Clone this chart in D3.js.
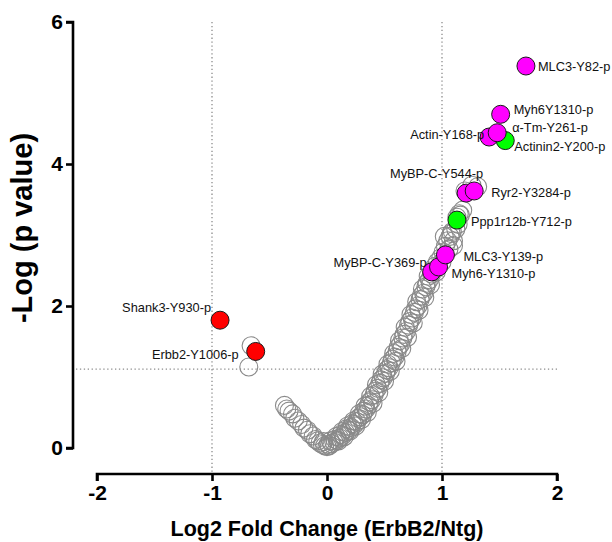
<!DOCTYPE html>
<html>
<head>
<meta charset="utf-8">
<script src="https://cdn.jsdelivr.net/npm/d3@7"></script>
<style>
  html, body { margin: 0; padding: 0; background: #fff; }
  svg { display: block; }
  text { font-family: "Liberation Sans", Arial, Helvetica, sans-serif; }
</style>
</head>
<body>
<svg id="chart" width="612" height="542"></svg>
<script>
// ---------------- data ----------------
const xTicks = [-2, -1, 0, 1, 2];
const yTicks = [0, 2, 4, 6];
const xTitle = "Log2 Fold Change (ErbB2/Ntg)";
const yTitle = "-Log (p value)";
const foldCutoffs = [-1, 1];
const pCutoff = 1.11;

// non-significant sites: [log2FC, -log p]
const grayPoints = [
  [-0.37,0.60],[-0.35,0.55],[-0.33,0.52],[-0.30,0.48],[-0.28,0.42],[-0.25,0.38],
  [-0.22,0.33],[-0.20,0.28],[-0.17,0.25],[-0.15,0.20],[-0.12,0.17],[-0.10,0.12],
  [-0.08,0.10],[-0.06,0.07],[-0.04,0.05],[-0.02,0.03],[0.00,0.02],[0.01,0.05],[-0.03,0.09],
  [0.02,0.03],[0.04,0.06],[0.03,0.10],[0.06,0.08],[0.07,0.12],[0.09,0.11],[0.08,0.16],
  [0.11,0.14],[0.12,0.19],[0.14,0.18],[0.13,0.23],[0.16,0.22],[0.17,0.27],[0.19,0.25],
  [0.18,0.31],[0.21,0.29],[0.22,0.34],[0.24,0.33],[0.23,0.38],[0.26,0.37],[0.27,0.42],
  [0.29,0.44],[0.28,0.48],[0.31,0.47],[0.32,0.52],[0.34,0.55],[0.33,0.59],[0.36,0.60],
  [0.37,0.65],[0.39,0.68],[0.38,0.73],[0.41,0.75],[0.42,0.80],[0.44,0.84],[0.43,0.89],
  [0.46,0.91],[0.47,0.96],[0.49,0.99],[0.48,1.04],[0.51,1.05],[0.52,1.10],[0.54,1.13],
  [0.53,1.18],[0.56,1.20],[0.57,1.25],[0.59,1.28],[0.58,1.33],[0.61,1.36],[0.62,1.42],
  [0.64,1.46],[0.63,1.51],[0.66,1.55],[0.67,1.60],[0.69,1.64],[0.68,1.70],[0.71,1.73],
  [0.72,1.78],[0.74,1.83],[0.73,1.88],[0.76,1.91],[0.77,1.96],[0.79,2.00],[0.78,2.06],
  [0.81,2.09],[0.82,2.14],[0.84,2.18],[0.83,2.24],[0.86,2.27],[0.87,2.32],[0.89,2.37],
  [0.88,2.42],[0.91,2.45],[0.92,2.50],[0.94,2.56],[0.96,2.62],[0.99,2.68],[1.01,2.76],
  [1.03,2.84],[1.05,2.92],[1.07,2.98],[1.09,3.05],[1.12,3.08],[1.14,3.15],[1.16,3.28],
  [1.18,3.35],[1.20,3.62],[1.26,3.70],[1.31,3.68],
  [0.10,0.10],[0.15,0.16],[0.20,0.24],[0.25,0.31],[0.30,0.40],[0.35,0.50],[0.40,0.63],
  [0.45,0.78],[0.50,0.94],[0.55,1.08],[0.60,1.22],[0.65,1.40],[0.70,1.56],[0.75,1.76],
  [0.80,1.94],[0.85,2.12],[0.90,2.30],[0.95,2.48],[1.00,2.62],[1.06,2.80],[1.10,2.92],
  [1.02,2.98],[1.08,3.02],[1.10,2.85],[1.13,3.25],[1.15,3.30],
  [-0.66,1.44],[-0.68,1.14]
];

// highlighted sites
const siteNames = [
  "Shank3-Y930-p","Erbb2-Y1006-p",
  "Actinin2-Y200-p","Actin-Y168-p","α-Tm-Y261-p","Myh6Y1310-p","MLC3-Y82-p",
  "MyBP-C-Y544-p","Ryr2-Y3284-p","Ppp1r12b-Y712-p",
  "MyBP-C-Y369-p","Myh6-Y1310-p","MLC3-Y139-p"
];
const siteFC   = [-0.93,-0.62, 1.55,1.41,1.48,1.51,1.73, 1.21,1.28,1.13, 0.91,0.97,1.03];
const siteLogP = [ 1.80, 1.36, 4.33,4.38,4.44,4.70,5.38, 3.59,3.62,3.21, 2.48,2.55,2.72];
const siteGroup = ["down","down","upGreen","up","up","up","up","up","up","upGreen","up","up","up"];

// ---------------- layout / style ----------------
const groupColor = { down: "#ff0000", up: "#ff00ff", upGreen: "#00ff00" };
// label offsets (px) relative to the marker, and text anchor
const labelLayout = [
  [-9,-13,"end"],[-17,3,"end"],
  [9,6,"start"],[-5,-3,"end"],[15,-5,"start"],[13,-5,"start"],[12,0,"start"],
  [17,-20,"end"],[17,2,"start"],[14,1,"start"],
  [-5,-9,"end"],[13,7,"start"],[18,2,"start"]
];

const svg = d3.select("#chart");
const x = d3.scaleLinear().domain([-2, 2]).range([97, 557]);
const y = d3.scaleLinear().domain([0, 6]).range([448, 22]);
const R = 9;

// reference lines
const dotted = { stroke: "#8c8c8c", width: 1.3, dash: "1.3,2.6" };
svg.append("g").selectAll("line").data(foldCutoffs).join("line")
  .attr("x1", d => x(d)).attr("x2", d => x(d))
  .attr("y1", y(6)).attr("y2", 474)
  .attr("stroke", dotted.stroke).attr("stroke-width", dotted.width)
  .attr("stroke-dasharray", dotted.dash);
svg.append("line")
  .attr("x1", 76).attr("x2", x(2))
  .attr("y1", y(pCutoff)).attr("y2", y(pCutoff))
  .attr("stroke", dotted.stroke).attr("stroke-width", dotted.width)
  .attr("stroke-dasharray", dotted.dash);

// gray points
svg.append("g").selectAll("circle").data(grayPoints).join("circle")
  .attr("cx", d => x(d[0])).attr("cy", d => y(d[1])).attr("r", R)
  .attr("fill", "none").attr("stroke", "#8a8a8a").attr("stroke-width", 1.1);

// highlighted points
const sites = siteNames.map((n, i) => ({ name: n, fc: siteFC[i], lp: siteLogP[i], g: siteGroup[i], lay: labelLayout[i] }));
svg.append("g").selectAll("circle").data(sites).join("circle")
  .attr("cx", d => x(d.fc)).attr("cy", d => y(d.lp)).attr("r", R)
  .attr("fill", d => groupColor[d.g]).attr("stroke", "#1a1a1a").attr("stroke-width", 1);

svg.append("g").selectAll("text").data(sites).join("text")
  .attr("x", d => x(d.fc) + d.lay[0])
  .attr("y", d => y(d.lp) + d.lay[1])
  .attr("dy", "0.35em")
  .attr("text-anchor", d => d.lay[2])
  .attr("font-size", 12.8).attr("fill", "#111")
  .text(d => d.name);

// axes
const fmt = d => String(d);
const yAxis = d3.axisLeft(y).tickValues(yTicks).tickSize(7).tickPadding(3).tickFormat(fmt);
const gy = svg.append("g").attr("transform", "translate(73,0)").call(yAxis);
const xAxis = d3.axisBottom(x).tickValues(xTicks).tickSize(7).tickPadding(4).tickFormat(fmt);
const gx = svg.append("g").attr("transform", "translate(0,474)").call(xAxis);
[gx, gy].forEach(g => {
  g.select(".domain").attr("stroke", "#000").attr("stroke-width", 2.6);
  g.selectAll(".tick line").attr("stroke", "#000").attr("stroke-width", 2.6);
  g.selectAll(".tick text").attr("fill", "#000").attr("font-size", 21).attr("font-weight", "bold")
    .attr("font-family", "'Liberation Sans', Arial, sans-serif");
});
gx.select(".domain").attr("d", `M${x(-2)},7V0H${x(2)}V7`);
gy.select(".domain").attr("d", `M-7,${y(6)}H0V${y(0)}H-7`);

// titles
svg.append("text").attr("x", x(0)).attr("y", 536).attr("text-anchor", "middle")
  .attr("font-size", 21.5).attr("font-weight", "bold").attr("fill", "#000").text(xTitle);
svg.append("text").attr("transform", "translate(32,228) rotate(-90)").attr("text-anchor", "middle")
  .attr("font-size", 29).attr("font-weight", "bold").attr("fill", "#000").text(yTitle);
</script>
</body>
</html>
